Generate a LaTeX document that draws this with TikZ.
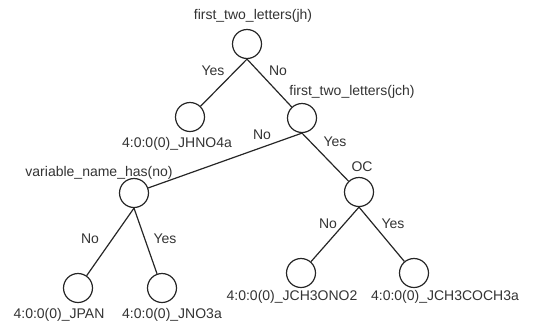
\documentclass[tikz,border=0pt]{standalone}
\usepackage{fontspec}
\setmainfont{Liberation Sans}
\begin{document}
\begin{tikzpicture}[x=1pt,y=-1pt,
  tn/.style={circle,draw=black!85,line width=1.2pt,minimum size=29pt,inner sep=0pt},
  lbl/.style={font=\fontsize{14}{16}\selectfont,text=black!80,inner sep=0pt},
  edge/.style={draw=black!85,line width=1.2pt}]
\useasboundingbox (0,0) rectangle (553,327);
\node[tn] (r) at (247,44) {};
\node[tn] (a) at (190,117) {};
\node[tn] (b) at (302,118) {};
\node[tn] (v) at (134,193) {};
\node[tn] (oc) at (359,192) {};
\node[tn] (p) at (78,288) {};
\node[tn] (n3) at (162,288) {};
\node[tn] (o2) at (301,273) {};
\node[tn] (co) at (414,273) {};
\node[lbl] (lr) at (253,16) {first\_two\_letters(jh)};
\node[lbl] (la) at (177,144) {4:0:0(0)\_JHNO4a};
\node[lbl] (lb) at (352,92) {first\_two\_letters(jch)};
\node[lbl] (lv) at (99,173) {variable\_name\_has(no)};
\node[lbl] (loc) at (362,167) {OC};
\node[lbl] (lp) at (59,315) {4:0:0(0)\_JPAN};
\node[lbl] (ln3) at (172,315) {4:0:0(0)\_JNO3a};
\node[lbl] (lo2) at (292,297) {4:0:0(0)\_JCH3ONO2};
\node[lbl] (lco) at (445,297) {4:0:0(0)\_JCH3COCH3a};
\draw[edge] (r.south) -- (a);
\draw[edge] (r.south) -- (b);
\draw[edge] (b.south) -- (v);
\draw[edge] (b.south) -- (oc);
\draw[edge] (v.south) -- (p);
\draw[edge] (v.south) -- (n3);
\draw[edge] (oc.south) -- (o2);
\draw[edge] (oc.south) -- (co);
\node[lbl] (e1) at (213,71) {Yes};
\node[lbl] (e2) at (278,71) {No};
\node[lbl] (e3) at (262,135) {No};
\node[lbl] (e4) at (335,142) {Yes};
\node[lbl] (e5) at (90,239) {No};
\node[lbl] (e6) at (165,239) {Yes};
\node[lbl] (e7) at (328,224) {No};
\node[lbl] (e8) at (393,224) {Yes};
\end{tikzpicture}
\end{document}
